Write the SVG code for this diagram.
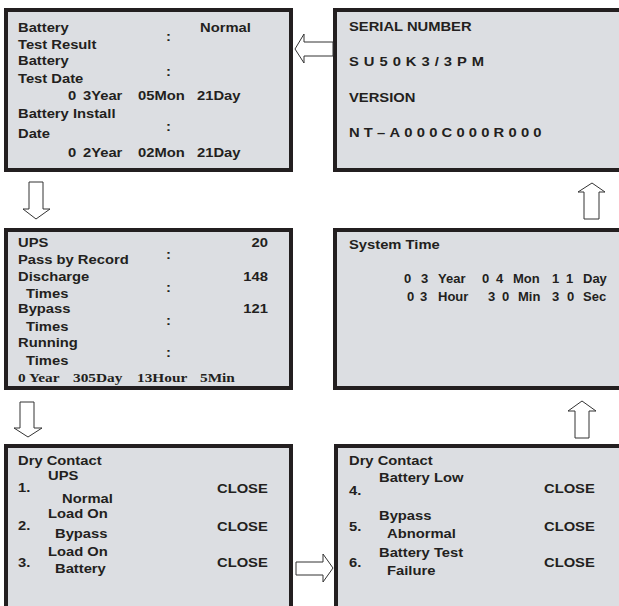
<svg xmlns="http://www.w3.org/2000/svg" width="619" height="606" viewBox="0 0 619 606">
<style>
.box{fill:#dcdee2;stroke:#231f20;stroke-width:4}
.t{font-family:"Liberation Sans",Arial,sans-serif;font-weight:bold;font-size:12px;fill:#231f20;transform-box:fill-box;transform-origin:0% 50%;transform:scaleX(1.23)}
.r{transform-origin:100% 50%}
.tm{font-family:"Liberation Sans",Arial,sans-serif;font-weight:bold;font-size:13px;fill:#231f20}
.s{font-family:"Liberation Serif","Times New Roman",serif;font-weight:bold;font-size:13px;fill:#231f20;transform-box:fill-box;transform-origin:0% 50%;transform:scaleX(1.18)}
.arr{fill:#ffffff;stroke:#333333;stroke-width:1}
</style>
<rect width="619" height="606" fill="#ffffff"/>
<g id="battery-info">
<rect class="box" x="6" y="10" width="285" height="160"/>
<text class="t" x="18" y="32">Battery</text>
<text class="t" x="18" y="49">Test Result</text>
<text class="t" x="166" y="41">:</text>
<text class="t" x="200" y="32">Normal</text>
<text class="t" x="18" y="65">Battery</text>
<text class="t" x="18" y="83">Test Date</text>
<text class="t" x="166" y="76">:</text>
<text class="t" x="68" y="100">0</text>
<text class="t" x="83" y="100">3Year</text>
<text class="t" x="138" y="100">05Mon</text>
<text class="t" x="197" y="100">21Day</text>
<text class="t" x="18" y="118">Battery Install</text>
<text class="t" x="18" y="138">Date</text>
<text class="t" x="166" y="131">:</text>
<text class="t" x="68" y="157">0</text>
<text class="t" x="83" y="157">2Year</text>
<text class="t" x="138" y="157">02Mon</text>
<text class="t" x="197" y="157">21Day</text>
</g>
<g id="serial-number">
<rect class="box" x="335" y="10" width="300" height="160"/>
<text class="t" x="349" y="31">SERIAL NUMBER</text>
<text class="t" x="349" y="66" letter-spacing="4.06">SU50K3/3PM</text>
<text class="t" x="349" y="102">VERSION</text>
<text class="t" x="349" y="137" letter-spacing="3.42">NT–A000C000R000</text>
</g>
<g id="ups-record">
<rect class="box" x="6" y="230" width="285" height="158"/>
<text class="t" x="18" y="247">UPS</text>
<text class="t" x="18" y="264">Pass by Record</text>
<text class="t" x="166" y="259">:</text>
<text class="t r" x="268" y="247" text-anchor="end">20</text>
<text class="t" x="18" y="281">Discharge</text>
<text class="t" x="26" y="298">Times</text>
<text class="t" x="166" y="292">:</text>
<text class="t r" x="268" y="281" text-anchor="end">148</text>
<text class="t" x="18" y="313">Bypass</text>
<text class="t" x="26" y="331">Times</text>
<text class="t" x="166" y="325">:</text>
<text class="t r" x="268" y="313" text-anchor="end">121</text>
<text class="t" x="18" y="347">Running</text>
<text class="t" x="26" y="365">Times</text>
<text class="t" x="166" y="357">:</text>
<text class="s" x="18" y="382">0 Year</text>
<text class="s" x="73" y="382">305Day</text>
<text class="s" x="137" y="382">13Hour</text>
<text class="s" x="200" y="382">5Min</text>
</g>
<g id="system-time">
<rect class="box" x="335" y="230" width="300" height="158"/>
<text class="t" x="349" y="249">System Time</text>
<text class="tm" y="283"><tspan x="404">0</tspan><tspan x="421">3</tspan><tspan x="438">Year</tspan><tspan x="482">0</tspan><tspan x="496">4</tspan><tspan x="513">Mon</tspan><tspan x="552">1</tspan><tspan x="566">1</tspan><tspan x="583">Day</tspan></text>
<text class="tm" y="301"><tspan x="407">0</tspan><tspan x="420">3</tspan><tspan x="438">Hour</tspan><tspan x="488">3</tspan><tspan x="502">0</tspan><tspan x="518">Min</tspan><tspan x="552">3</tspan><tspan x="567">0</tspan><tspan x="583">Sec</tspan></text>
</g>
<g id="dry-contact-1">
<rect class="box" x="6" y="446" width="285" height="170"/>
<text class="t" x="18" y="465">Dry Contact</text>
<text class="t" x="48" y="480">UPS</text>
<text class="t" x="18" y="492">1.</text>
<text class="t" x="62" y="503">Normal</text>
<text class="t" x="217" y="493">CLOSE</text>
<text class="t" x="48" y="518">Load On</text>
<text class="t" x="18" y="530">2.</text>
<text class="t" x="55" y="538">Bypass</text>
<text class="t" x="217" y="531">CLOSE</text>
<text class="t" x="48" y="556">Load On</text>
<text class="t" x="18" y="567">3.</text>
<text class="t" x="55" y="573">Battery</text>
<text class="t" x="217" y="567">CLOSE</text>
</g>
<g id="dry-contact-2">
<rect class="box" x="336" y="446" width="300" height="170"/>
<text class="t" x="349" y="465">Dry Contact</text>
<text class="t" x="379" y="482">Battery Low</text>
<text class="t" x="349" y="495">4.</text>
<text class="t" x="544" y="493">CLOSE</text>
<text class="t" x="379" y="520">Bypass</text>
<text class="t" x="349" y="531">5.</text>
<text class="t" x="387" y="538">Abnormal</text>
<text class="t" x="544" y="531">CLOSE</text>
<text class="t" x="379" y="557">Battery Test</text>
<text class="t" x="349" y="567">6.</text>
<text class="t" x="387" y="575">Failure</text>
<text class="t" x="544" y="567">CLOSE</text>
</g>
<g id="connectors">
<polygon class="arr" points="295,49 304,34 304,42 333,42 333,56 304,56 304,63"/>
<polygon class="arr" points="29,182 43,182 43,209 50,209 36,219 23,209 29,209"/>
<polygon class="arr" points="20,402 34,402 34,428 42,428 28,437 14,428 20,428"/>
<polygon class="arr" points="296,562 323,562 323,554 333,568 323,582 323,575 296,575"/>
<polygon class="arr" points="575,438 589,438 589,411 596,411 582,401 568,411 575,411"/>
<polygon class="arr" points="584,219 599,219 599,192 605,192 592,183 578,192 584,192"/>
</g>
</svg>
